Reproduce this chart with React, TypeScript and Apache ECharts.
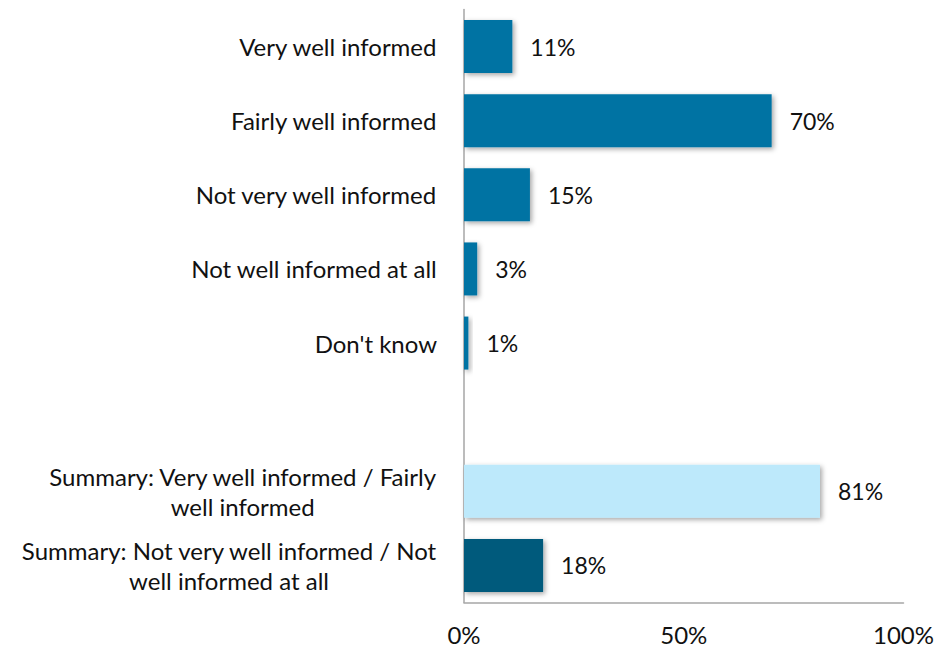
import React, { useEffect, useRef } from "react";
import * as echarts from "echarts";

const categories = [
  "Very well informed",
  "Fairly well informed",
  "Not very well informed",
  "Not well informed at all",
  "Don't know",
  "",
  "Summary: Very well informed / Fairly\nwell informed",
  "Summary: Not very well informed / Not\nwell informed at all",
];
const values: (number | null)[] = [11, 70, 15, 3, 1, null, 81, 18];
const xTicks = [0, 50, 100];

const MAIN = "#0073A3";
const LIGHT = "#BDE9FB";
const DARK = "#005A7C";
const barColors = [MAIN, MAIN, MAIN, MAIN, MAIN, MAIN, LIGHT, DARK];

const FONT = "Lato, 'Open Sans', sans-serif";
const FS = 24;

export default function App() {
  const ref = useRef<HTMLDivElement>(null);
  useEffect(() => {
    if (!ref.current) return;
    const chart = echarts.init(ref.current, undefined, { renderer: "svg" });
    chart.setOption({
      animation: false,
      grid: { left: 464, right: 31, top: 9.5, bottom: 47.5, containLabel: false },
      xAxis: {
        type: "value",
        min: xTicks[0],
        max: xTicks[xTicks.length - 1],
        interval: xTicks[1] - xTicks[0],
        axisLine: { show: true, lineStyle: { color: "#a6a6a6", width: 1.5 } },
        axisTick: { show: false },
        splitLine: { show: false },
        axisLabel: {
          formatter: "{value}%",
          color: "#111",
          fontSize: FS,
          fontFamily: FONT,
          margin: 20,
        },
      },
      yAxis: {
        type: "category",
        inverse: true,
        data: categories,
        axisLine: { show: true, lineStyle: { color: "#a6a6a6", width: 1.5 } },
        axisTick: { show: false },
        axisLabel: {
          margin: 27,
          formatter: (v: string) =>
            v
              .split("\n")
              .map((l) => `{c|${l}}`)
              .join("\n"),
          rich: {
            c: {
              align: "center",
              fontSize: FS,
              fontFamily: FONT,
              color: "#111",
              lineHeight: 30,
            },
          },
        },
      },
      series: [
        {
          type: "bar",
          barWidth: 53,
          data: values.map((v, i) =>
            v === null
              ? "-"
              : {
                  value: v,
                  itemStyle: { color: barColors[i] },
                }
          ),
          itemStyle: {
            shadowColor: "rgba(0,0,0,0.35)",
            shadowBlur: 5,
            shadowOffsetX: 2,
            shadowOffsetY: 2,
          },
          label: {
            show: true,
            position: "right",
            distance: 18,
            formatter: "{c}%",
            fontSize: 23,
            fontFamily: FONT,
            color: "#111",
          },
        },
      ],
    });
    return () => chart.dispose();
  }, []);
  return (
    <div
      ref={ref}
      style={{ position: "fixed", left: 0, top: 0, width: 937, height: 650, background: "#fff" }}
    />
  );
}
